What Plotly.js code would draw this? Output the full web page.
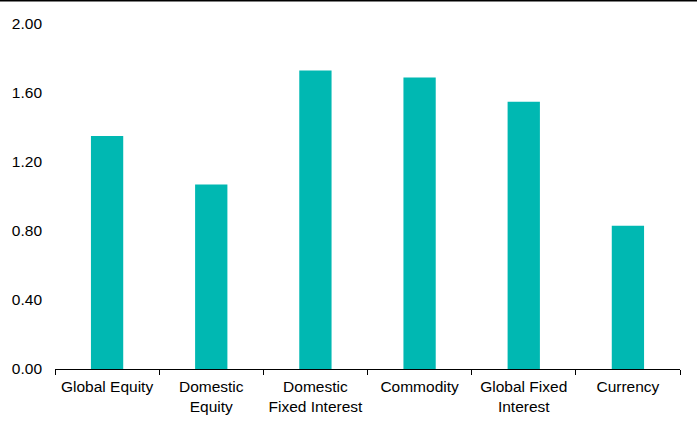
<!DOCTYPE html>
<html>
<head>
<meta charset="utf-8">
<script src="https://cdn.plot.ly/plotly-3.0.1.min.js"></script>
<style>
  html, body { margin: 0; padding: 0; background: #ffffff; }
  #chart { width: 697px; height: 428px; }
</style>
</head>
<body>
<div id="chart"></div>
<script>
// Asset classes and their values
const categories = [
  "Global Equity",
  "Domestic<br>Equity",
  "Domestic<br>Fixed Interest",
  "Commodity",
  "Global Fixed<br>Interest",
  "Currency"
];
const values = [1.35, 1.07, 1.73, 1.69, 1.55, 0.83];
const yTicks = [0, 0.4, 0.8, 1.2, 1.6, 2.0];

const W = 697, H = 428;
const margin = { l: 55, r: 17, t: 24, b: 59 };
const plotW = W - margin.l - margin.r;
const plotH = H - margin.t - margin.b;

const trace = {
  type: "bar",
  x: categories,
  y: values,
  marker: { color: "#00B8B2" },
  hoverinfo: "x+y"
};

const layout = {
  width: W,
  height: H,
  margin: margin,
  paper_bgcolor: "#ffffff",
  plot_bgcolor: "#ffffff",
  font: { family: "Liberation Sans, Arial, sans-serif", size: 15.5, color: "#000000" },
  showlegend: false,
  bargap: 0.69,
  xaxis: {
    type: "category",
    showline: true,
    linecolor: "#000000",
    linewidth: 1,
    ticks: "outside",
    tickson: "boundaries",
    ticklen: 5,
    tickcolor: "#000000",
    tickwidth: 1,
    tickangle: 0,
    showgrid: false,
    zeroline: false,
    ticklabelstandoff: 3,
    tickfont: { size: 15.5 }
  },
  yaxis: {
    range: [0, 2],
    tickvals: yTicks,
    ticktext: yTicks.map(v => v.toFixed(2)),
    showgrid: false,
    zeroline: false,
    showline: false,
    ticks: "",
    ticklabelstandoff: 12,
    tickfont: { size: 15.5 }
  },
  shapes: [{
    type: "line",
    xref: "paper",
    yref: "paper",
    x0: -margin.l / plotW,
    x1: 1 + margin.r / plotW,
    y0: 1 + (margin.t - 0.5) / plotH,
    y1: 1 + (margin.t - 0.5) / plotH,
    line: { color: "#000000", width: 2 }
  }]
};

Plotly.newPlot("chart", [trace], layout, { displayModeBar: false, staticPlot: true });
</script>
</body>
</html>
